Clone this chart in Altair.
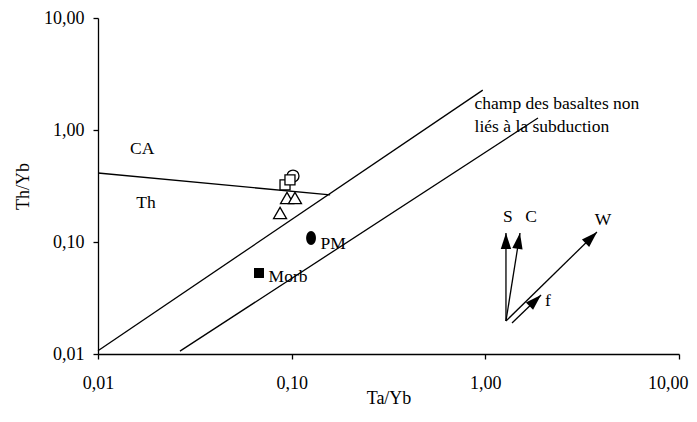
import altair as alt
import pandas as pd

# ---- data ----
# straight segments: two diagonal field limits, CA/Th divide, vector shafts S, C, W, f
seg_name = ["upper", "lower", "ca_th", "S", "C", "W", "f"]
seg_x1 = [0.01, 0.0265, 0.01, 1.278, 1.278, 1.278, 1.373]
seg_y1 = [0.0107, 0.0106, 0.413, 0.0197, 0.0197, 0.0197, 0.0189]
seg_x2 = [0.97, 1.87, 0.158, 1.278, 1.51, 3.77, 1.94]
seg_y2 = [2.27, 1.28, 0.263, 0.1203, 0.1203, 0.1228, 0.0336]

# arrow heads
head_x = [1.278, 1.487, 3.525, 1.810]
head_y = [0.1021, 0.1023, 0.1095, 0.0300]
head_angle = [0, 9, 46, 46]

# open samples (circle, squares, triangles)
open_x = [0.1016, 0.0924, 0.0980, 0.0946, 0.1040, 0.0871]
open_y = [0.388, 0.323, 0.358, 0.247, 0.247, 0.1815]
open_shape = ["circle", "square", "square", "triangle-up", "triangle-up", "triangle-up"]
open_size = [144, 100, 100, 169, 169, 169]

# reference compositions: PM (ellipse), Morb (square)
ref_name = ["PM", "Morb"]
ref_x = [0.1259, 0.0678]
ref_y = [0.1086, 0.0529]
ref_shape = ["M0,-1A0.7,1,0,1,1,0,1A0.7,1,0,1,1,0,-1Z", "square"]
ref_size = [196, 100]

# labels
lab_c_text = ["CA", "Th", "S", "C", "W", "f"]
lab_c_x = [0.0169, 0.0177, 1.309, 1.721, 4.05, 2.106]
lab_c_y = [0.676, 0.223, 0.167, 0.167, 0.157, 0.0297]

lab_l_text = ["PM", "Morb", "champ des basaltes non", "liés à la subduction"]
lab_l_x = [0.141, 0.0760, 0.880, 0.880]
lab_l_y = [0.0960, 0.0487, 1.708, 1.064]

tick_values = [0.01, 0.1, 1, 10]

FONT = "Liberation Serif"

seg_df = pd.DataFrame({"name": seg_name, "x1": seg_x1, "y1": seg_y1, "x2": seg_x2, "y2": seg_y2})
head_df = pd.DataFrame({"x": head_x, "y": head_y, "angle": head_angle})
open_df = pd.DataFrame({"x": open_x, "y": open_y, "shape": open_shape, "size": open_size})
ref_df = pd.DataFrame({"name": ref_name, "x": ref_x, "y": ref_y, "shape": ref_shape, "size": ref_size})
labc_df = pd.DataFrame({"text": lab_c_text, "x": lab_c_x, "y": lab_c_y})
labl_df = pd.DataFrame({"text": lab_l_text, "x": lab_l_x, "y": lab_l_y})

label_expr = "replace(format(datum.value, '.2f'), '.', ',')"

xscale = alt.Scale(type="log", domain=[0.01, 10], nice=False)
yscale = alt.Scale(type="log", domain=[0.01, 10], nice=False)

xaxis = alt.Axis(
    values=tick_values, labelExpr=label_expr, title="Ta/Yb", grid=False,
    tickSize=5, labelPadding=15, labelFlush=False, labelOverlap=False,
    labelAlign={"condition": {"test": "datum.value >= 10", "value": "right"}, "value": "center"},
    labelOffset={"condition": {"test": "datum.value >= 10", "value": 9}, "value": 0},
    titleY=44, titleBaseline="middle",
)
yaxis = alt.Axis(
    values=tick_values, labelExpr=label_expr, title="Th/Yb", grid=False,
    tickSize=5, labelPadding=9, labelFlush=False, labelOverlap=False,
    titleX=-75, titleY=168, titleBaseline="middle", titleAngle=-90,
)

X = alt.X("x:Q", scale=xscale, axis=xaxis)
Y = alt.Y("y:Q", scale=yscale, axis=yaxis)

segments = alt.Chart(seg_df).mark_rule(color="black", strokeWidth=1.3).encode(
    x=alt.X("x1:Q", scale=xscale, axis=xaxis),
    y=alt.Y("y1:Q", scale=yscale, axis=yaxis),
    x2="x2:Q",
    y2="y2:Q",
)

heads = alt.Chart(head_df).mark_point(
    shape="M0,-1L-0.65,1L0.65,1Z", size=256, filled=True, color="black", opacity=1
).encode(x=X, y=Y, angle=alt.Angle("angle:Q", scale=None))

open_pts = alt.Chart(open_df).mark_point(
    filled=True, fill="white", stroke="black", strokeWidth=1.3, opacity=1, fillOpacity=1
).encode(
    x=X, y=Y,
    shape=alt.Shape("shape:N", scale=None),
    size=alt.Size("size:Q", scale=None),
)

ref_pts = alt.Chart(ref_df).mark_point(filled=True, color="black", opacity=1).encode(
    x=X, y=Y,
    shape=alt.Shape("shape:N", scale=None),
    size=alt.Size("size:Q", scale=None),
)

labels_c = alt.Chart(labc_df).mark_text(
    font=FONT, fontSize=17.5, color="black", align="center", baseline="middle"
).encode(x=X, y=Y, text="text:N")

labels_l = alt.Chart(labl_df).mark_text(
    font=FONT, fontSize=17.5, color="black", align="left", baseline="middle"
).encode(x=X, y=Y, text="text:N")

chart = alt.layer(segments, heads, open_pts, ref_pts, labels_c, labels_l).properties(
    width=581,
    height=336,
    autosize=alt.AutoSizeParams(type="none"),
    padding={"left": 90, "top": 10, "right": 10, "bottom": 60},
).configure_view(stroke=None).configure_axis(
    domainColor="black", tickColor="black", labelColor="black", titleColor="black",
    labelFont=FONT, titleFont=FONT, labelFontSize=18, titleFontSize=18,
    titleFontWeight="normal", domainWidth=1.3, tickWidth=1.3,
)

chart.save("out.html", embed_options={"renderer": "svg", "actions": False})
